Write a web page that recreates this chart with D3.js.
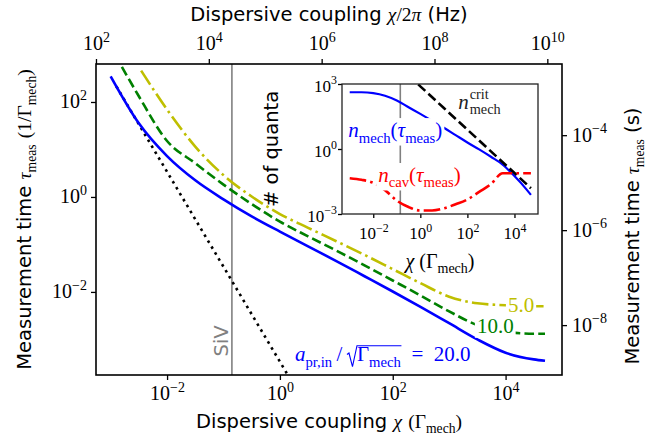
<!DOCTYPE html>
<meta charset="utf-8">
<head>
<style>
  body { margin: 0; background: #fff; }
  text { white-space: pre; }
</style>
</head>
<script src="https://d3js.org/d3.v7.min.js"></script>
<div id="my_dataviz"></div>
<script>

// coupling grid chi (units of Gamma_mech)
var chi = [1e-3, 3.16e-3, 1e-2, 3.16e-2, 0.1, 0.316, 1, 3.16, 10, 31.6, 100, 316, 1e3, 3.16e3, 1e4, 3.16e4, 5e4];
var chi10 = [1.58e-3, 3.16e-3, 1e-2, 3.16e-2, 0.1, 0.316, 1, 3.16, 10, 31.6, 100, 316, 1e3, 3.16e3, 1e4, 3.16e4, 5e4];
var chi5 = [3.47e-3, 1e-2, 3.16e-2, 0.1, 0.316, 1, 3.16, 10, 31.6, 100, 316, 1e3, 3.16e3, 1e4, 3.16e4, 5e4];

// measurement time (1/Gamma_mech) for a_pr,in/sqrt(Gamma_mech) = 20, 10, 5
var tau20 = [347, 35.5, 7.24, 2.24, 0.891, 0.389, 0.186, 0.0912, 0.0447, 0.0214, 0.0102, 4.79e-3, 2.19e-3, 1.0e-3, 5.25e-4, 3.8e-4, 3.55e-4];
var tau10 = [550, 132, 15.1, 5.13, 1.82, 0.708, 0.302, 0.148, 0.0741, 0.0363, 0.0174, 8.32e-3, 3.89e-3, 2.0e-3, 1.45e-3, 1.32e-3, 1.32e-3];
var tau5 = [457, 69.2, 11.5, 2.88, 1.02, 0.437, 0.224, 0.117, 0.0603, 0.0302, 0.0151, 7.94e-3, 5.75e-3, 5.25e-3, 5.01e-3, 5.01e-3];

// dotted asymptote
var chiDot = [1.26e-3, 3.16e-3, 1e-2, 3.16e-2, 0.1, 0.316, 1, 3.16];
var tauDot = [214, 33.9, 3.39, 0.339, 0.0339, 3.39e-3, 3.39e-4, 3.39e-5];

// inset: number of quanta
var nMech = [417, 417, 380, 288, 174, 85.1, 41.7, 20, 9.55, 4.37, 2.0, 0.955, 0.437, 0.191, 0.0562, 0.0141, 7.59e-3];
var nCav = [0.0447, 0.038, 0.0275, 0.0126, 4.17e-3, 2.09e-3, 1.45e-3, 1.45e-3, 1.82e-3, 2.82e-3, 4.68e-3, 0.0105, 0.024, 0.0759, 0.0759, 0.0759, 0.0759];
var chiCrit = [0.3, 1, 10, 100, 1e3, 1e4, 5e4];
var nCrit = [2570, 780, 78, 7.8, 0.78, 0.078, 0.0155];

var chiSiV = 0.141;
var hzPerChi = 1.82e5;   // chi/2pi in Hz for chi = 1 Gamma_mech
var tauPerSec = 2.0e5;   // Gamma_mech in 1/s

// tick values
var ticksChi = [1e-2, 1, 1e2, 1e4];
var ticksHz = [1e2, 1e4, 1e6, 1e8, 1e10];
var ticksTau = [1e-2, 1, 1e2];
var ticksSec = [1e-8, 1e-6, 1e-4];
var ticksInsetChi = [1e-2, 1, 1e2, 1e4];
var ticksInsetN = [1e-3, 1, 1e3];


var W = 667, H = 442;
var box = {left: 96, right: 562, top: 64, bottom: 375};
var ibox = {left: 342, right: 538, top: 84, bottom: 214};
var SANS = "'DejaVu Sans', sans-serif";
var SERIF = "'Liberation Serif', 'DejaVu Serif', serif";
var FS = 19.5, MS = 20, LS = 21;

var svg = d3.select("#my_dataviz")
  .append("svg")
    .attr("width", W)
    .attr("height", H);

// scales
var x = d3.scaleLog().domain([5.5e-4, 1e5]).range([box.left, box.right]);
var y = d3.scaleLog().domain([1.78e-4, 631]).range([box.bottom, box.top]);
var xHz = d3.scaleLog().domain(x.domain().map(function(d) { return d * hzPerChi; })).range(x.range());
var ySec = d3.scaleLog().domain(y.domain().map(function(d) { return d / tauPerSec; })).range(y.range());
var xi = d3.scaleLog().domain([4.7e-4, 1e5]).range([ibox.left, ibox.right]);
var yi = d3.scaleLog().domain([1e-3, 1e3]).range([ibox.bottom, ibox.top]);

// text with sub / superscripts: t sans, i italic serif, r roman serif, b subscript, p superscript
function rich(t, parts, size) {
  var level = 0;
  parts.forEach(function(p) {
    var k = p[1], shift = 0, fs = size;
    if (k === "b") { shift = 0.26 * size; fs = 0.7 * size; }
    if (k === "p") { shift = -0.42 * size; fs = 0.7 * size; }
    t.append("tspan")
      .attr("dy", shift - level)
      .attr("font-size", fs)
      .attr("font-family", k === "t" ? SANS : SERIF)
      .attr("font-style", k === "i" ? "italic" : "normal")
      .text(p[0]);
    level = shift;
  });
  return t;
}

function powLabel(node, d, size) {
  var e = Math.round(Math.log10(d));
  var t = d3.select(node).attr("dy", null).text(null);
  rich(t, [["10", "r"], [String(e).replace("-", "\u2212"), "p"]], size);
}

function boxed(t, pad) {
  var b = t.node().getBBox();
  d3.select(t.node().parentNode).insert("rect", function() { return t.node(); })
    .attr("x", b.x - pad).attr("y", b.y - pad + 2)
    .attr("width", b.width + 2 * pad).attr("height", b.height + 2 * pad - 4)
    .attr("fill", "white");
}

// clip
svg.append("clipPath").attr("id", "clipMain").append("rect")
  .attr("x", box.left).attr("y", box.top)
  .attr("width", box.right - box.left).attr("height", box.bottom - box.top);
svg.append("clipPath").attr("id", "clipInset").append("rect")
  .attr("x", ibox.left).attr("y", ibox.top)
  .attr("width", ibox.right - ibox.left).attr("height", ibox.bottom - ibox.top);

var plot = svg.append("g").attr("clip-path", "url(#clipMain)");

// SiV line
plot.append("line")
  .attr("x1", x(chiSiV)).attr("x2", x(chiSiV))
  .attr("y1", box.top).attr("y2", box.bottom)
  .attr("stroke", "#808080").attr("stroke-width", 1.6);

var line = d3.line()
  .x(function(d) { return x(d[0]); })
  .y(function(d) { return y(d[1]); })
  .curve(d3.curveMonotoneX);

var series = [
  {xs: chiDot, ys: tauDot, color: "black", dash: "2.6,4.3"},
  {xs: chi5, ys: tau5, color: "#bfbf00", dash: "16.6,4.2,2.6,4.2"},
  {xs: chi10, ys: tau10, color: "#008000", dash: "9.6,4.2"},
  {xs: chi, ys: tau20, color: "#0000ff", dash: null}
];

series.forEach(function(s) {
  plot.append("path")
    .datum(d3.zip(s.xs, s.ys))
    .attr("d", line)
    .attr("fill", "none")
    .attr("stroke", s.color)
    .attr("stroke-width", 2.6)
    .attr("stroke-dasharray", s.dash);
});

// SiV label
svg.append("text")
  .attr("transform", "translate(" + (x(chiSiV) - 4) + "," + y(9.3e-4) + ") rotate(-90)")
  .attr("text-anchor", "middle")
  .attr("font-family", SANS).attr("font-size", FS)
  .attr("fill", "#808080")
  .text("SiV");

// curve labels
var t5 = rich(svg.append("text").attr("x", x(1.1e4)).attr("y", y(3.8e-3)).attr("fill", "#bfbf00"),
  [["5.0", "r"]], LS);
boxed(t5, 2);
var t10 = rich(svg.append("text").attr("x", x(3.1e3)).attr("y", y(1.38e-3)).attr("fill", "#008000"),
  [["10.0", "r"]], LS);
boxed(t10, 2);

var base20 = y(3.5e-4);
var parts20 = [["a", "i"], ["pr,in", "b"], ["\u2009/\u2009", "r"], ["\u2002", "r"], ["\u0393", "r"], ["mech", "b"], ["\u2002=\u2002", "r"], ["20.0", "r"]];
var t20 = rich(svg.append("text").attr("x", x(1.85)).attr("y", base20).attr("fill", "#0000ff"), parts20, LS);
boxed(t20, 2);
(function() {
  // radical sign over Gamma_mech
  var n = t20.node();
  var iSlot = 0;
  for (var k = 0; k < 3; k++) iSlot += parts20[k][0].length;
  var iEnd = iSlot + 1 + 1 + parts20[5][0].length - 1;
  var r = n.getExtentOfChar(iSlot), e = n.getExtentOfChar(iEnd);
  var x0 = r.x, top = base20 - 15.3;
  svg.append("path")
    .attr("d", "M" + (x0 + 0.5) + "," + (base20 - 6.5) +
      "L" + (x0 + 2.5) + "," + (base20 - 8) +
      "L" + (x0 + 6) + "," + (base20 + 5.5) +
      "L" + (x0 + 10.5) + "," + top +
      "L" + (e.x + e.width + 0.5) + "," + top)
    .attr("fill", "none")
    .attr("stroke", "#0000ff").attr("stroke-width", 1.1);
})();

// main axes
function styleAxis(g) {
  g.select(".domain").remove();
  g.selectAll(".tick line").attr("stroke", "black").attr("stroke-width", 1.3);
}

var gB = svg.append("g").attr("transform", "translate(0," + box.bottom + ")")
  .call(d3.axisBottom(x).tickValues(ticksChi).tickSize(5).tickSizeOuter(0).tickFormat(function() { return ""; }));
styleAxis(gB);
gB.selectAll(".tick text").attr("y", 25).each(function(d) { powLabel(this, d, MS); });

var gT = svg.append("g").attr("transform", "translate(0," + box.top + ")")
  .call(d3.axisTop(xHz).tickValues(ticksHz).tickSize(5).tickSizeOuter(0).tickFormat(function() { return ""; }));
styleAxis(gT);
gT.selectAll(".tick text").attr("y", -14).each(function(d) { powLabel(this, d, MS); });

var gL = svg.append("g").attr("transform", "translate(" + box.left + ",0)")
  .call(d3.axisLeft(y).tickValues(ticksTau).tickSize(5).tickSizeOuter(0).tickFormat(function() { return ""; }));
styleAxis(gL);
gL.selectAll(".tick text").attr("x", -9).attr("y", 6).each(function(d) { powLabel(this, d, MS); });

var gR = svg.append("g").attr("transform", "translate(" + box.right + ",0)")
  .call(d3.axisRight(ySec).tickValues(ticksSec).tickSize(5).tickSizeOuter(0).tickFormat(function() { return ""; }));
styleAxis(gR);
gR.selectAll(".tick text").attr("x", 10).attr("y", 6).each(function(d) { powLabel(this, d, MS); });

svg.append("rect")
  .attr("x", box.left).attr("y", box.top)
  .attr("width", box.right - box.left).attr("height", box.bottom - box.top)
  .attr("fill", "none").attr("stroke", "black").attr("stroke-width", 1.6);

// axis titles
rich(svg.append("text").attr("x", (box.left + box.right) / 2).attr("y", 428).attr("text-anchor", "middle"),
  [["Dispersive coupling ", "t"], ["\u03c7", "i"], [" ", "t"], ["(\u0393", "r"], ["mech", "b"], [")", "r"]], FS);
rich(svg.append("text").attr("x", (box.left + box.right) / 2).attr("y", 21).attr("text-anchor", "middle"),
  [["Dispersive coupling ", "t"], ["\u03c7", "i"], ["/2", "r"], ["\u03c0", "i"], [" (Hz)", "t"]], FS);
rich(svg.append("text").attr("transform", "translate(31," + (box.top + box.bottom) / 2 + ") rotate(-90)").attr("text-anchor", "middle"),
  [["Measurement time ", "t"], ["\u03c4", "i"], ["meas", "b"], [" ", "t"], ["(1/\u0393", "r"], ["mech", "b"], [")", "r"]], FS);
rich(svg.append("text").attr("transform", "translate(639,236) rotate(-90)").attr("text-anchor", "middle"),
  [["Measurement time ", "t"], ["\u03c4", "i"], ["meas", "b"], [" (s)", "t"]], FS);

// ---- inset ----
var ins = svg.append("g");
ins.append("rect")
  .attr("x", ibox.left).attr("y", ibox.top)
  .attr("width", ibox.right - ibox.left).attr("height", ibox.bottom - ibox.top)
  .attr("fill", "white");

var iplot = ins.append("g").attr("clip-path", "url(#clipInset)");
iplot.append("line")
  .attr("x1", xi(chiSiV)).attr("x2", xi(chiSiV))
  .attr("y1", ibox.top).attr("y2", ibox.bottom)
  .attr("stroke", "#808080").attr("stroke-width", 1.6);

var iline = d3.line()
  .x(function(d) { return xi(d[0]); })
  .y(function(d) { return yi(d[1]); })
  .curve(d3.curveMonotoneX);

[
  {xs: chi, ys: nMech, color: "#0000ff", dash: null, w: 2.2},
  {xs: chiCrit, ys: nCrit, color: "black", dash: "9.6,4.2", w: 2.6},
  {xs: chi, ys: nCav, color: "#ff0000", dash: "16.6,4.2,2.6,4.2", w: 2.6}
].forEach(function(s) {
  iplot.append("path")
    .datum(d3.zip(s.xs, s.ys))
    .attr("d", iline)
    .attr("fill", "none")
    .attr("stroke", s.color)
    .attr("stroke-width", s.w)
    .attr("stroke-dasharray", s.dash);
});

var tm = rich(ins.append("text").attr("x", xi(8.7e-4)).attr("y", yi(3.55)).attr("fill", "#0000ff"),
  [["n", "i"], ["mech", "b"], ["(", "r"], ["\u03c4", "i"], ["meas", "b"], [")", "r"]], LS);
boxed(tm, 2);
var tc = rich(ins.append("text").attr("x", xi(0.0162)).attr("y", yi(0.030)).attr("fill", "#ff0000"),
  [["n", "i"], ["cav", "b"], ["(", "r"], ["\u03c4", "i"], ["meas", "b"], [")", "r"]], LS);
boxed(tc, 2);
(function() {
  var bx = xi(41), by = yi(71);
  var n = ins.append("text").attr("x", bx).attr("y", by).attr("fill", "#222")
    .attr("font-family", SERIF).attr("font-style", "italic").attr("font-size", LS).text("n");
  var w = n.node().getComputedTextLength() + 1;
  ins.append("text").attr("x", bx + w).attr("y", by - 0.46 * LS).attr("fill", "#222")
    .attr("font-family", SERIF).attr("font-size", 0.68 * LS).text("crit");
  ins.append("text").attr("x", bx + w).attr("y", by + 0.24 * LS).attr("fill", "#222")
    .attr("font-family", SERIF).attr("font-size", 0.68 * LS).text("mech");
})();

var IS = 17;
var giB = ins.append("g").attr("transform", "translate(0," + ibox.bottom + ")")
  .call(d3.axisBottom(xi).tickValues(ticksInsetChi).tickSize(4).tickSizeOuter(0).tickFormat(function() { return ""; }));
styleAxis(giB);
giB.selectAll(".tick text").attr("y", 25).each(function(d) { powLabel(this, d, IS); });

var giL = ins.append("g").attr("transform", "translate(" + ibox.left + ",0)")
  .call(d3.axisLeft(yi).tickValues(ticksInsetN).tickSize(4).tickSizeOuter(0).tickFormat(function() { return ""; }));
styleAxis(giL);
giL.selectAll(".tick text").attr("x", -5).attr("y", 7).each(function(d) { powLabel(this, d, IS); });

ins.append("rect")
  .attr("x", ibox.left).attr("y", ibox.top)
  .attr("width", ibox.right - ibox.left).attr("height", ibox.bottom - ibox.top)
  .attr("fill", "none").attr("stroke", "#222").attr("stroke-width", 1.3);

rich(ins.append("text").attr("x", (ibox.left + ibox.right) / 2).attr("y", 268).attr("text-anchor", "middle"),
  [["\u03c7", "i"], [" ", "r"], ["(\u0393", "r"], ["mech", "b"], [")", "r"]], MS);
rich(ins.append("text")
  .attr("transform", "translate(278," + (ibox.top + ibox.bottom) / 2 + ") rotate(-90)")
  .attr("text-anchor", "middle"),
  [["# of quanta", "t"]], FS);

</script>
